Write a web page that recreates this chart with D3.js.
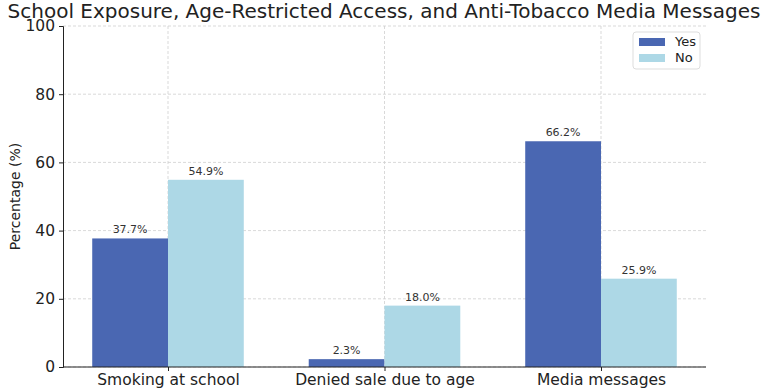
<!DOCTYPE html>
<html><head><meta charset="utf-8">
<script src="https://cdn.jsdelivr.net/npm/d3@7"></script>
<style>body{margin:0;background:#fff;} svg{display:block;font-family:"DejaVu Sans",sans-serif;}</style>
</head><body><svg id="c" width="769" height="391"></svg>
<script>
const categories = ["Smoking at school", "Denied sale due to age", "Media messages"];
const yesValues = [37.7, 2.3, 66.2];
const noValues = [54.9, 18.0, 25.9];
const seriesNames = ["Yes", "No"];
const yTicks = [0, 20, 40, 60, 80, 100];
const colors = ["#4a67b2", "#add8e6"];

const svg = d3.select("#c");
const L = 63, R = 706, T = 26, B = 367;
const barW = 0.35;
const x = d3.scaleLinear().domain([-0.485, 2.485]).range([L, R]);
const y = d3.scaleLinear().domain([0, 100]).range([B, T]);

// grid
const g = svg.append("g");
g.selectAll(".hg").data(yTicks).enter().append("line")
  .attr("x1", L).attr("x2", R).attr("y1", d => y(d)).attr("y2", d => y(d))
  .attr("stroke", "#cfcfcf").attr("stroke-width", 0.8).attr("stroke-dasharray", "3,2");
g.selectAll(".vg").data(categories).enter().append("line")
  .attr("x1", (d,i) => x(i)).attr("x2", (d,i) => x(i)).attr("y1", T).attr("y2", B)
  .attr("stroke", "#cfcfcf").attr("stroke-width", 0.8).attr("stroke-dasharray", "3,2");

// bars
const series = [yesValues, noValues];
series.forEach((vals, s) => {
  const off = s === 0 ? -barW : 0;
  svg.append("g").selectAll("rect").data(vals).enter().append("rect")
    .attr("x", (d,i) => x(i + off)).attr("width", x(barW) - x(0))
    .attr("y", d => y(d)).attr("height", d => y(0) - y(d))
    .attr("fill", colors[s]);
  svg.append("g").selectAll("text").data(vals).enter().append("text")
    .attr("x", (d,i) => x(i + off + barW/2)).attr("y", d => y(d) - 5)
    .attr("text-anchor", "middle").attr("font-size", 11).attr("fill", "#333")
    .text(d => d.toFixed(1) + "%");
});

// axes
const yAxis = d3.axisLeft(y).tickValues(yTicks).tickSize(4).tickPadding(4);
const ya = svg.append("g").attr("transform", `translate(${L},0)`).call(yAxis);
ya.select(".domain").attr("stroke", "#222").attr("stroke-width", 1);
ya.selectAll(".tick line").attr("stroke", "#222");
ya.selectAll("text").attr("font-size", 15.5).attr("fill", "#222").attr("font-family", "DejaVu Sans");

const xAxis = d3.axisBottom(x).tickValues(categories.map((d,i)=>i)).tickFormat(i => categories[i]).tickSize(4).tickPadding(3);
const xa = svg.append("g").attr("transform", `translate(0,${B})`).call(xAxis);
xa.select(".domain").attr("stroke", "#222").attr("stroke-width", 1).attr("d", `M${L},0H${R}`);
xa.selectAll(".tick line").attr("stroke", "#222");
xa.selectAll("text").attr("font-size", 15.5).attr("fill", "#222").attr("font-family", "DejaVu Sans");

// y label
svg.append("text").attr("transform", `translate(20,${(T+B)/2}) rotate(-90)`)
  .attr("text-anchor", "middle").attr("font-size", 14).attr("fill", "#222").text("Percentage (%)");

// title
svg.append("text").attr("x", 384).attr("y", 18).attr("text-anchor", "middle")
  .attr("font-size", 20).attr("fill", "#222").text("School Exposure, Age-Restricted Access, and Anti-Tobacco Media Messages");

// legend
const lg = svg.append("g").attr("transform", "translate(633,32)");
lg.append("rect").attr("width", 67).attr("height", 37).attr("rx", 3).attr("fill", "#fff").attr("fill-opacity", 0.8)
  .attr("stroke", "#ddd");
seriesNames.forEach((n, i) => {
  lg.append("rect").attr("x", 6).attr("y", 6 + i*16).attr("width", 26).attr("height", 8).attr("fill", colors[i]);
  lg.append("text").attr("x", 42).attr("y", 14 + i*16).attr("font-size", 13).attr("fill", "#222").text(n);
});
</script></body></html>
